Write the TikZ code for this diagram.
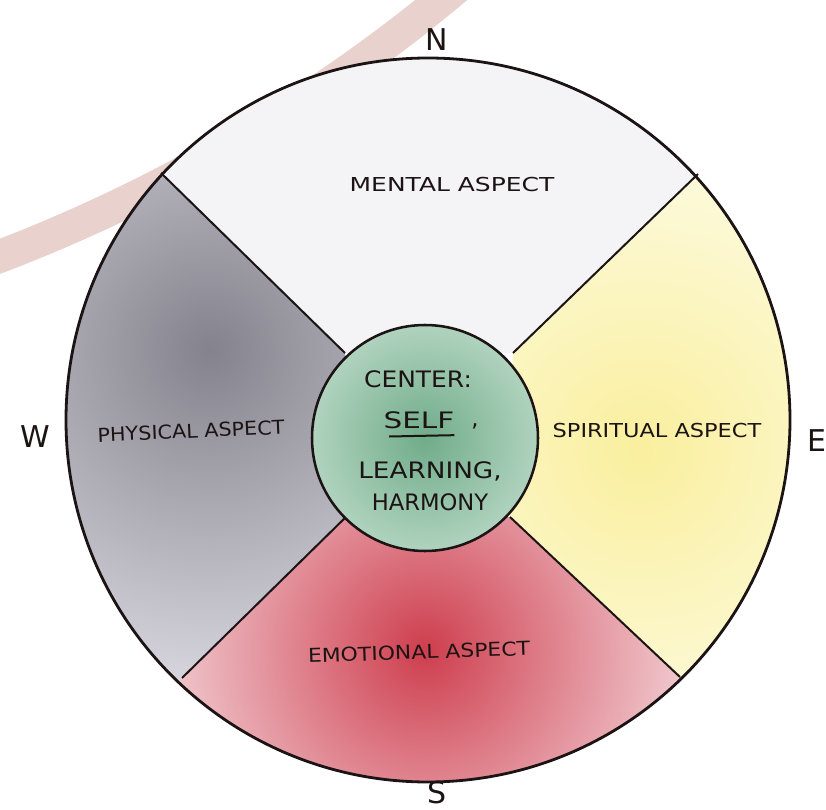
\documentclass[tikz,border=0pt]{standalone}
\usepackage{fontspec}
\newfontfamily\handfont{DejaVu Sans}
\usepackage{tikz}
\usetikzlibrary{calc}

\definecolor{inkblack}{RGB}{28,20,20}
\definecolor{wheelpink}{RGB}{233,209,205}
\definecolor{mentalfill}{RGB}{244,243,246}
\newcommand{\widen}[2]{\scalebox{#1}[1]{#2}}

\tikzset{
  aspect/.style={font=\handfont\fontsize{14.4}{16}\selectfont, text=inkblack, inner sep=0.75pt},
  centertext/.style={font=\handfont\fontsize{17}{19}\selectfont, text=inkblack, inner sep=0.75pt},
  compass/.style={font=\handfont\fontsize{22.5}{24}\selectfont, text=inkblack, inner sep=0.75pt},
  divider/.style={draw=inkblack, line width=1.5pt},
}

\begin{document}
\begin{tikzpicture}[x=0.75pt,y=0.75pt,yscale=-1,xscale=1]
\useasboundingbox (0,0) rectangle (826,810);

% Pink arc behind the wheel
\begin{scope}
\clip (0,0) rectangle (826,810);
\draw [wheelpink, line width=24.75pt] (-574,-1243) circle [radius=1605];
\end{scope}

% Points where the dividers meet the circles
\coordinate (ulo) at (161,173);
\coordinate (uro) at (698,174);
\coordinate (llo) at (182,678);
\coordinate (lro) at (680,677);
\coordinate (uli) at (345,353);
\coordinate (uri) at (513,353);
\coordinate (lli) at (350,513);
\coordinate (lri) at (510,517);
\coordinate (ulx) at ($(uli)!1.5!(ulo)$);
\coordinate (urx) at ($(uri)!1.5!(uro)$);
\coordinate (llx) at ($(lli)!1.5!(llo)$);
\coordinate (lrx) at ($(lri)!1.5!(lro)$);

% Quarters
\begin{scope}
\clip (428,420) circle [radius=362];
\fill [white] (428,420) circle [radius=362];
\fill [mentalfill] (uli) -- (ulx) -- (428,-100) -- (urx) -- (uri) -- cycle;
% west quarter
\begin{scope}
\clip (lli) -- (llx) -- (-100,420) -- (ulx) -- (uli) -- cycle;
\shade [inner color={rgb,255:red,132;green,130;blue,140}, outer color={rgb,255:red,226;green,224;blue,232}] (-170,-30) rectangle (590,730);
\end{scope}
% east quarter
\begin{scope}
\clip (uri) -- (urx) -- (900,420) -- (lrx) -- (lri) -- cycle;
\shade [inner color={rgb,255:red,250;green,239;blue,158}, outer color={rgb,255:red,253;green,252;blue,232}] (300,110) rectangle (980,790);
\end{scope}
% south quarter
\begin{scope}
\clip (lri) -- (lrx) -- (428,950) -- (llx) -- (lli) -- cycle;
\shade [inner color={rgb,255:red,206;green,62;blue,78}, outer color={rgb,255:red,246;green,222;blue,226}] (125,350) rectangle (725,950);
\end{scope}
\end{scope}

% Dividers
\draw [divider] (uli) -- (ulo);
\draw [divider] (uri) -- (uro);
\draw [divider] (lli) -- (llo);
\draw [divider] (lri) -- (lro);

% Outer rim
\draw [inkblack, line width=2.1pt] (428,420) circle [radius=362];

% Center circle
\begin{scope}
\clip (425,438) circle [radius=113];
\shade [inner color={rgb,255:red,112;green,172;blue,138}, outer color={rgb,255:red,208;green,230;blue,216}] (255,268) rectangle (595,608);
\end{scope}
\draw [inkblack, line width=1.9pt] (425,438) circle [radius=113];

% Text Node
\node [compass] (north) at (437,40) {N};
% Text Node
\node [compass] (west) at (35,437) {W};
% Text Node
\node [compass] (east) at (817,441) {E};
% Text Node
\node [compass] (south) at (437,793) {S};
% Text Node
\node [aspect] (mental) at (452,185) {\widen{1.3}{MENTAL ASPECT}};
% Text Node
\node [aspect, rotate=2.5] (physical) at (191,431) {\widen{1.08}{PHYSICAL ASPECT}};
% Text Node
\node [aspect] (spiritual) at (657,431) {\widen{1.17}{SPIRITUAL ASPECT}};
% Text Node
\node [aspect, rotate=2] (emotional) at (419,652) {\widen{1.14}{EMOTIONAL ASPECT}};
% Text Node
\node [centertext] (center) at (418,379) {\widen{1.1}{CENTER:}};
% Text Node
\node [centertext] (self) at (419,420) {\widen{1.3}{SELF}};
% Text Node
\node [centertext] (comma) at (475,426) {,};
% Text Node
\node [centertext] (learning) at (430,471) {\widen{1.16}{LEARNING,}};
% Text Node
\node [centertext] (harmony) at (430,502) {HARMONY};
% Underline
\draw [inkblack, line width=1.5pt] ([xshift=5pt,yshift=5pt]self.south west) -- ([xshift=-1pt,yshift=4pt]self.south east);

\end{tikzpicture}
\end{document}
